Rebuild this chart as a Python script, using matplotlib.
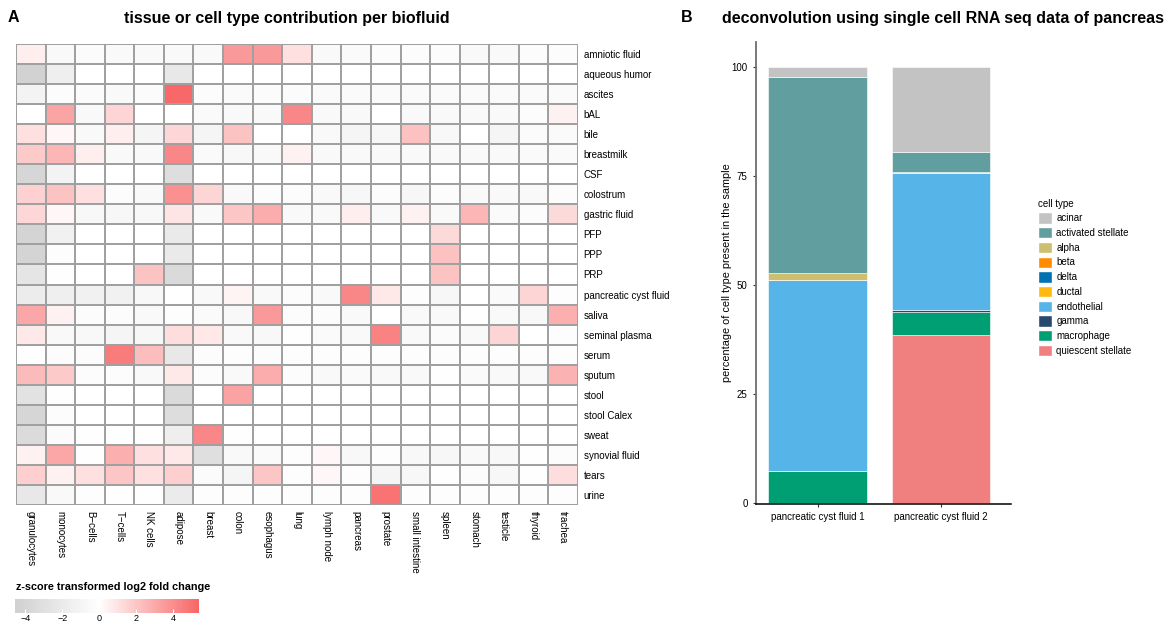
import numpy as np
import matplotlib
matplotlib.use("Agg")
import matplotlib.pyplot as plt
from matplotlib.colors import LinearSegmentedColormap, Normalize
from matplotlib.patches import Patch

plt.rcParams['font.family'] = ['Liberation Sans', 'DejaVu Sans']

# heatmap data
biofluids = ['amniotic fluid', 'aqueous humor', 'ascites', 'bAL', 'bile', 'breastmilk', 'CSF',
             'colostrum', 'gastric fluid', 'PFP', 'PPP', 'PRP', 'pancreatic cyst fluid', 'saliva',
             'seminal plasma', 'serum', 'sputum', 'stool', 'stool Calex', 'sweat', 'synovial fluid',
             'tears', 'urine']
tissues = ['granulocytes', 'monocytes', 'B\u2212cells', 'T\u2212cells', 'NK cells', 'adipose', 'breast',
           'colon', 'esophagus', 'lung', 'lymph node', 'pancreas', 'prostate', 'small intestine',
           'spleen', 'stomach', 'testicle', 'thyroid', 'trachea']

zscores = [
    [0.6, -0.6, -0.4, -0.6, -0.6, -0.6, -0.6, 3.6, 3.6, 1.1, -0.6, -0.5, -0.3, -0.3, -0.3, -0.6, -0.6, -0.3, -0.3],
    [-4.3, -1.5, 0, 0, 0, -2.2, 0, 0, 0, 0, 0, 0, 0, 0, 0, 0, 0, 0, 0],
    [-1.2, -0.3, -0.4, -0.6, -0.4, 5.3, -0.3, -0.5, -0.4, -0.4, -0.5, -0.5, -0.5, -0.5, -0.5, -0.5, -0.5, -0.5, -0.5],
    [0, 3.2, -0.6, 1.5, 0, 0, -0.5, -0.6, -0.6, 4.2, -0.6, -0.6, 0, -0.6, -0.6, -0.6, -0.6, -0.3, 0.5],
    [1.1, 0.3, -0.6, 0.6, -1.0, 1.4, -1.0, 2.1, 0, 0, -0.6, -0.9, -0.8, 2.2, -0.7, 0, -0.9, -0.4, -0.5],
    [1.9, 2.6, 0.6, -0.6, -0.6, 4.2, -0.5, -0.7, -0.6, 0.5, -0.6, -0.6, -0.6, -0.6, -0.6, -0.6, -0.6, -0.5, -0.5],
    [-4.0, -1.2, 0, 0, 0, -3.2, 0, 0, 0, 0, 0, 0, 0, 0, 0, 0, 0, 0, 0],
    [1.6, 2.1, 1.1, -0.3, -0.6, 3.9, 1.5, -0.6, -0.3, -0.3, -0.6, -0.8, -0.3, -0.8, -0.3, -0.6, -0.6, -0.6, -0.3],
    [1.4, 0.3, -0.7, -0.8, -0.7, 0.9, -0.6, 2.0, 2.9, -0.6, -0.6, 0.6, -0.6, 0.5, -0.6, 2.6, -0.5, -0.3, 1.3],
    [-4.2, -1.4, 0, 0, 0, -2.0, 0, 0, 0, 0, 0, 0, 0, 0, 1.3, 0, 0, 0, 0],
    [-4.1, -0.2, 0, 0, 0, -2.0, 0, 0, 0, 0, 0, 0, 0, 0, 2.2, 0, 0, 0, 0],
    [-2.5, -0.1, 0, 0, 2.1, -3.6, 0, 0, 0, 0, 0, 0, 0, 0, 2.1, 0, 0, 0, 0],
    [-1.8, -1.5, -1.4, -1.3, -0.7, 0, -0.6, 0.4, -0.6, -0.3, -0.6, 4.2, 0.8, -0.2, -0.8, 0, -0.5, 1.5, -0.2],
    [3.1, 0.5, -0.3, -0.3, -0.6, -0.2, -0.5, -0.7, 3.6, -0.3, -0.3, -0.6, 0, -0.6, -0.6, -0.1, -0.6, -0.7, 2.8],
    [0.8, -0.6, -0.7, -1.0, -0.8, 1.2, 0.8, -0.6, -0.7, -0.1, -0.5, -0.6, 4.4, -0.6, -0.4, -0.6, 1.5, 0, -0.2],
    [-0.1, -0.3, -0.3, 4.6, 2.3, -2.2, -0.3, -0.2, -0.3, -0.2, -0.2, -0.2, -0.2, -0.2, -0.2, -0.2, -0.2, -0.2, -0.2],
    [2.4, 1.9, -0.3, -0.3, -0.6, 0.8, -0.3, -0.6, 2.9, -0.3, -0.6, -0.5, -0.6, -0.6, -0.1, -0.5, -0.6, -0.6, 2.7],
    [-2.8, -0.1, 0, 0, 0, -3.6, 0, 3.3, 0, 0, 0, 0, 0, 0, 0, 0, 0, 0, 0],
    [-4.0, -0.3, 0, 0, 0, -3.3, 0, 0, 0, 0, 0, 0, 0, 0, 0, 0, 0, 0, 0],
    [-3.5, -0.4, -0.1, -0.1, -0.1, -1.6, 4.2, -0.1, 0, 0, 0, 0, 0, 0, 0, 0, 0, 0, 0],
    [0.5, 3.1, -0.1, 2.8, 1.1, 0.8, -3.1, -0.6, -0.5, -0.2, 0.3, -0.7, -0.2, -0.7, -0.8, -0.6, -0.7, -0.1, -0.3],
    [1.7, 0.5, 1.1, 2.0, 1.1, 1.7, -0.4, -1.0, 2.0, -0.2, 0.3, -0.2, -1.0, -0.8, -0.1, -0.3, -0.8, -0.1, 1.2],
    [-2.2, -0.6, -0.2, -0.1, -0.1, -1.9, -0.2, -0.2, -0.2, -0.2, -0.2, -0.2, 4.9, -0.2, -0.2, -0.2, -0.2, -0.2, -0.2],
]

# deconvolution data, percentages per sample
samples = ['pancreatic cyst fluid 1', 'pancreatic cyst fluid 2']
cell_types = ['acinar', 'activated stellate', 'alpha', 'beta', 'delta', 'ductal',
              'endothelial', 'gamma', 'macrophage', 'quiescent stellate']
cell_colors = ['#c3c3c3', '#609e9f', '#cdbe70', '#ff8c00', '#0072b2', '#ffb90f',
               '#56b4e9', '#26496d', '#009e73', '#f08080']
pct_sample1 = [2.3, 45.0, 1.6, 0, 0, 0, 43.9, 0, 7.2, 0]
pct_sample2 = [19.5, 4.6, 0.3, 0, 0, 0, 31.3, 0.5, 5.4, 38.4]

W, H = 1173, 624
fig = plt.figure(figsize=(W / 100, H / 100), dpi=100)

def box(x0, y0, x1, y1):
    return [x0 / W, 1 - y1 / H, (x1 - x0) / W, (y1 - y0) / H]

# ---- panel A: heatmap
cmap = LinearSegmentedColormap.from_list(
    'gw', [(0, '#d0d0d0'), (4.55 / 9.95, '#ffffff'), (1, '#f86666')])
norm = Normalize(-4.55, 5.4)

ax = fig.add_axes(box(16, 44, 578, 505))
Z = np.array(zscores)
ax.pcolormesh(np.arange(len(tissues) + 1), np.arange(len(biofluids) + 1), Z,
              cmap=cmap, norm=norm, edgecolors='#a0a0a0', linewidth=1.3)
ax.set_xlim(0, len(tissues))
ax.set_ylim(len(biofluids), 0)
for s in ax.spines.values():
    s.set_visible(False)
ax.yaxis.tick_right()
ax.set_yticks(np.arange(len(biofluids)) + 0.5)
ax.set_yticklabels(biofluids, fontsize=7)
ax.set_xticks(np.arange(len(tissues)) + 0.5)
ax.set_xticklabels(tissues, fontsize=7, rotation=-90, va='top')
ax.tick_params(length=0, pad=4)

fig.text(8 / W, 1 - 18 / H, 'A', fontsize=11.5, fontweight='bold', va='center')
fig.text(287 / W, 1 - 18 / H, 'tissue or cell type contribution per biofluid',
         fontsize=11.5, fontweight='bold', ha='center', va='center')

# colorbar
fig.text(16 / W, 1 - 587 / H, 'z-score transformed log2 fold change',
         fontsize=7.8, fontweight='bold', va='center')
cax = fig.add_axes(box(15, 599, 199, 613))
cb = fig.colorbar(plt.cm.ScalarMappable(norm=norm, cmap=cmap), cax=cax,
                  orientation='horizontal', ticks=[-4, -2, 0, 2, 4])
cb.outline.set_visible(False)
cb.ax.set_xticklabels(['\u22124', '\u22122', '0', '2', '4'])
cb.ax.tick_params(labelsize=6.5, length=3, color='white', direction='in', pad=1)

# ---- panel B: stacked bars
bx = fig.add_axes(box(756, 42, 1011, 504))
xpos = np.arange(1, len(samples) + 1)
stack = np.array([pct_sample1, pct_sample2]).T
bottom = np.zeros(len(samples))
for i in range(len(cell_types) - 1, -1, -1):
    bx.bar(xpos, stack[i], width=0.8, bottom=bottom, color=cell_colors[i],
           edgecolor='white', linewidth=0.4)
    bottom += stack[i]
bx.set_xlim(0.5, 2.57)
bx.set_ylim(-0.3, 105.7)
bx.set_xticks(xpos)
bx.set_xticklabels(samples, fontsize=7)
bx.set_yticks([0, 25, 50, 75, 100])
bx.tick_params(labelsize=7, length=2.5, color='#333333')
bx.set_ylabel('percentage of cell type present in the sample', fontsize=7.8, labelpad=0)
for s in ['top', 'right']:
    bx.spines[s].set_visible(False)
bx.spines['left'].set_color('#6e6e6e')
bx.spines['left'].set_linewidth(1.3)
bx.spines['bottom'].set_linewidth(1.1)

fig.text(681 / W, 1 - 18 / H, 'B', fontsize=11.5, fontweight='bold', va='center')
fig.text(943 / W, 1 - 18 / H, 'deconvolution using single cell RNA seq data of pancreas',
         fontsize=11.5, fontweight='bold', ha='center', va='center')

handles = [Patch(facecolor=c, edgecolor='white', label=l) for l, c in zip(cell_types, cell_colors)]
fig.legend(handles=handles, title='cell type', loc='upper left',
           bbox_to_anchor=(1034 / W, 1 - 195 / H), frameon=False, fontsize=7,
           title_fontsize=7, handlelength=1.4, handleheight=1.4, labelspacing=0.36,
           handletextpad=0.5, alignment='left', borderaxespad=0)

fig.savefig('out.png', dpi=100)
